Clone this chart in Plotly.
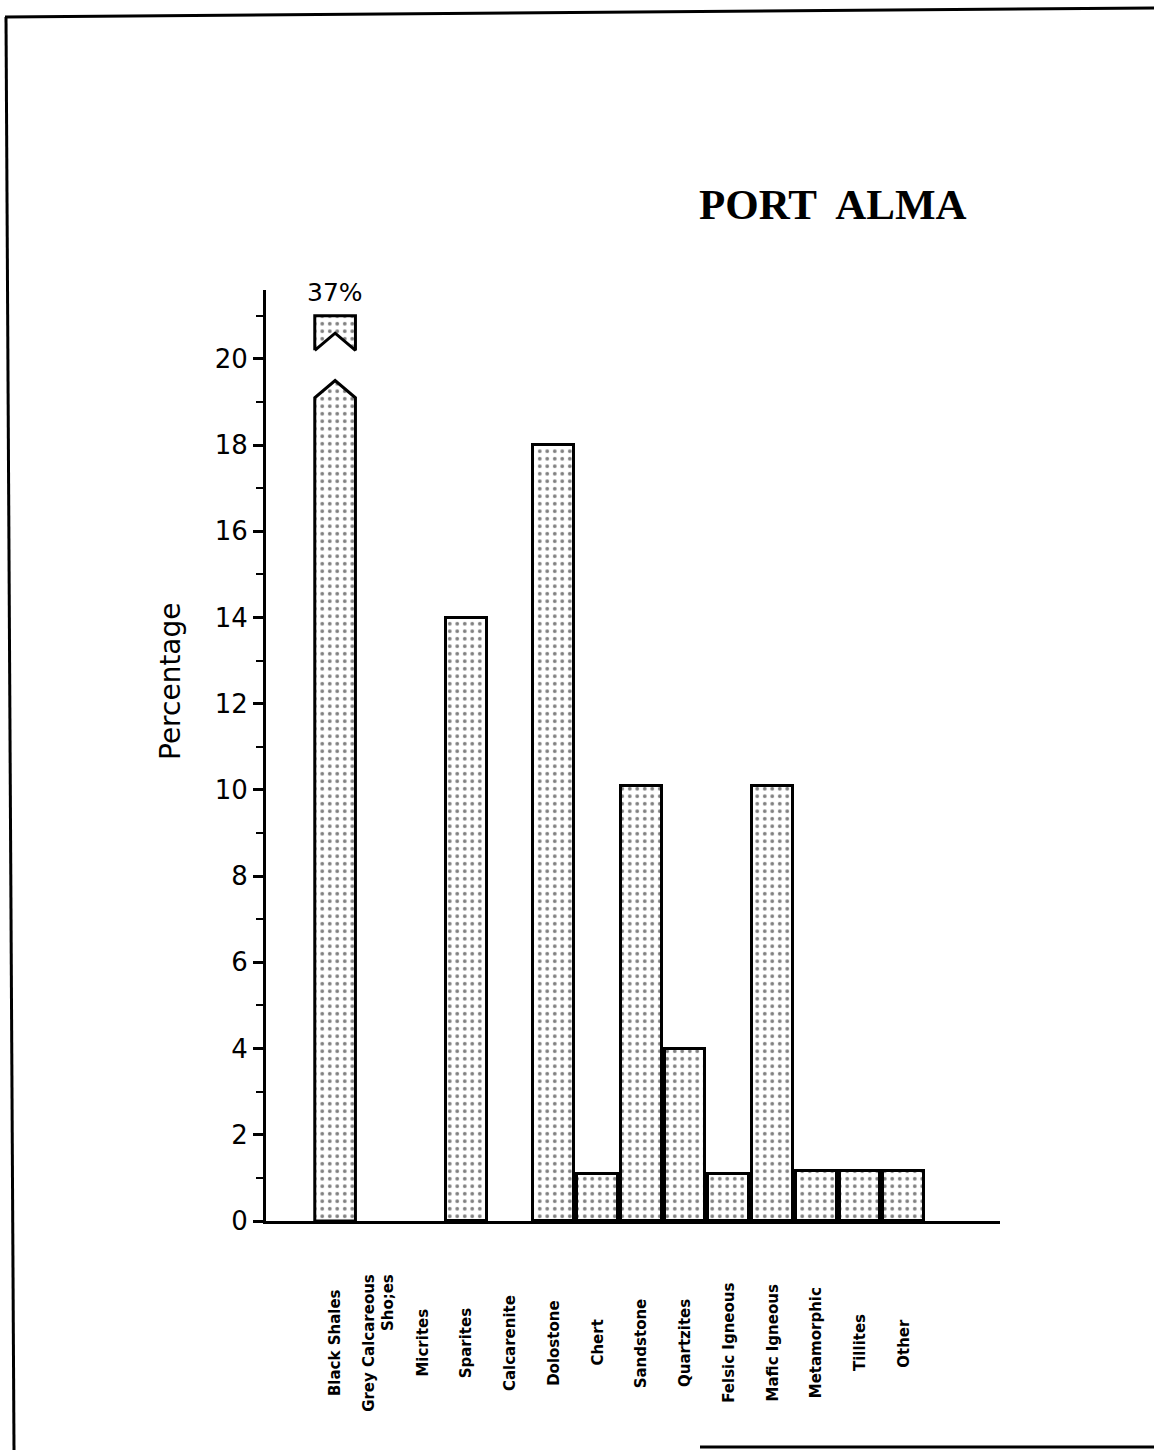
import plotly.graph_objects as go

# ---------------- data ----------------
categories = ["Black Shales", "Grey Calcareous<br>Sho;es", "Micrites", "Sparites",
              "Calcarenite", "Dolostone", "Chert", "Sandstone", "Quartzites",
              "Felsic Igneous", "Mafic Igneous", "Metamorphic", "Tillites", "Other"]
percentages = [37, 0, 0, 14, 0, 18, 1.1, 10.1, 4.0, 1.1, 10.1, 1.15, 1.15, 1.15]
y_ticks = [0, 2, 4, 6, 8, 10, 12, 14, 16, 18, 20]
title_text = "PORT  ALMA"
y_title = "Percentage"

# ---------------- layout constants ----------------
W, H = 1154, 1450
ML, MT = 266, 290
PW, PH = 734, 931
MR, MB = W - ML - PW, H - MT - PH
Y_MAX = 21.6
BAR_W = 0.93
CAP = 19.1        # where broken bar is drawn up to
PEAK = 19.5
BRK_LO, BRK_NOTCH, BRK_HI = 20.2, 20.6, 21.0

def px(xp):
    return (xp - ML) / PW

def py(yp):
    return (MT + PH - yp) / PH

pattern = dict(shape=".", size=7.5, solidity=0.2, fgcolor="black", bgcolor="white")

x_pos = list(range(len(categories)))
bar_vals = [None if (v > Y_MAX - 2 or v == 0) else v for v in percentages]

fig = go.Figure()
fig.add_trace(go.Bar(
    x=x_pos, y=bar_vals, width=BAR_W,
    marker=dict(color="white", pattern=pattern, line=dict(color="black", width=3)),
    showlegend=False, hoverinfo="skip"))

# broken bars (value beyond axis)
annotations = []
for i, v in enumerate(percentages):
    if v > Y_MAX - 2:
        l, r = i - BAR_W / 2, i + BAR_W / 2
        fig.add_trace(go.Scatter(
            x=[l, l, i, r, r, l], y=[0, CAP, PEAK, CAP, 0, 0],
            mode="lines", fill="toself", fillcolor="white", fillpattern=pattern,
            line=dict(color="black", width=3), showlegend=False, hoverinfo="skip"))
        fig.add_trace(go.Scatter(
            x=[l, l, r, r, i, l], y=[BRK_LO, BRK_HI, BRK_HI, BRK_LO, BRK_NOTCH, BRK_LO],
            mode="lines", fill="toself", fillcolor="white", fillpattern=pattern,
            line=dict(color="black", width=3), showlegend=False, hoverinfo="skip"))
        annotations.append(dict(x=i, y=BRK_HI + 0.15, xref="x", yref="y",
                                text=f"{int(v)}%", showarrow=False, yanchor="bottom",
                                font=dict(family="DejaVu Sans", size=25, color="black")))

# category labels (rotated)
for i, c in enumerate(categories):
    annotations.append(dict(x=i, y=py(1343), xref="x", yref="paper", text=c,
                            textangle=-90, showarrow=False, xanchor="center",
                            yanchor="middle", align="right",
                            font=dict(family="DejaVu Sans", size=15, color="black",
                                      weight="bold")))

annotations.append(dict(x=px(833), y=py(204), xref="paper", yref="paper",
                        text=title_text, showarrow=False, xanchor="center", yanchor="middle",
                        font=dict(family="Liberation Serif", size=43, color="black",
                                  weight="bold")))
annotations.append(dict(x=px(170), y=py(681), xref="paper", yref="paper",
                        text=y_title, textangle=-90, showarrow=False,
                        xanchor="center", yanchor="middle",
                        font=dict(family="DejaVu Sans", size=28, color="black")))

shapes = [
    dict(type="line", xref="paper", yref="paper", x0=px(5), y0=py(17), x1=px(1154), y1=py(8),
         line=dict(color="black", width=3)),
    dict(type="line", xref="paper", yref="paper", x0=px(6), y0=py(17), x1=px(14), y1=py(1450),
         line=dict(color="black", width=3)),
    dict(type="line", xref="paper", yref="paper", x0=px(700), y0=py(1447), x1=px(1154), y1=py(1447),
         line=dict(color="black", width=3)),
]

fig.update_layout(
    width=W, height=H,
    margin=dict(l=ML, r=MR, t=MT, b=MB, autoexpand=False),
    paper_bgcolor="white", plot_bgcolor="white",
    annotations=annotations, shapes=shapes, bargap=0,
    xaxis=dict(range=[-1.58, 15.2], showline=True, linecolor="black", linewidth=3,
               showticklabels=False, ticks="", showgrid=False, zeroline=False),
    yaxis=dict(range=[0, Y_MAX], showline=True, linecolor="black", linewidth=3,
               tickvals=y_ticks, ticks="outside", ticklen=10, tickwidth=2.5,
               tickcolor="black", showgrid=False, zeroline=False,
               tickfont=dict(family="DejaVu Sans", size=26, color="black"),
               minor=dict(dtick=1, tick0=0, ticks="outside", ticklen=7, tickwidth=2,
                          tickcolor="black", showgrid=False)),
)

fig.write_html("out.html", config={"displayModeBar": False},
               post_script="document.body.style.margin='0';document.body.style.overflow='hidden';")
